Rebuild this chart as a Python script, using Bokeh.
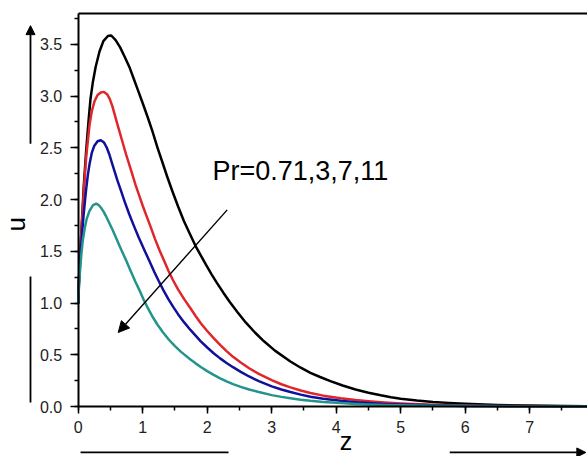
from math import pi
from bokeh.plotting import figure
from bokeh.models import (Label, Arrow, NormalHead, SingleIntervalTicker, FixedTicker, Range1d,
                          LinearAxis, CustomJSTickFormatter)
from bokeh.embed import file_html
from bokeh.resources import INLINE

# Pr = 0.71 (black)
z_pr071 = [0, 0.01, 0.02, 0.056, 0.087, 0.124, 0.16, 0.19, 0.226, 0.27, 0.33, 0.39, 0.46, 0.50, 0.52,
           0.58, 0.65, 0.72, 0.80, 0.865, 0.93, 1.0, 1.08, 1.15, 1.23, 1.30, 1.38, 1.46, 1.55, 1.64,
           1.73, 1.82, 1.90, 1.98, 2.07, 2.15, 2.25, 2.35, 2.47, 2.6, 2.74, 2.88, 3.05, 3.29, 3.45,
           3.6, 3.75, 3.91, 4.1, 4.3, 4.5, 4.69, 4.85, 5.0, 5.25, 5.5, 5.75, 6.0, 6.5, 7.0, 7.5, 7.9]
u_pr071 = [1.00, 1.22, 1.35, 1.78, 2.14, 2.48, 2.76, 2.97, 3.13, 3.28, 3.43, 3.53, 3.58, 3.585, 3.58,
           3.54, 3.47, 3.38, 3.27, 3.16, 3.05, 2.93, 2.79, 2.66, 2.50, 2.37, 2.22, 2.08, 1.93, 1.79,
           1.67, 1.55, 1.46, 1.37, 1.275, 1.195, 1.10, 1.01, 0.91, 0.81, 0.715, 0.63, 0.54, 0.435, 0.375,
           0.325, 0.285, 0.245, 0.203, 0.165, 0.133, 0.108, 0.09, 0.076, 0.058, 0.044, 0.034, 0.026,
           0.015, 0.009, 0.005, 0.003]
# Pr = 3 (red)
z_pr3 = [0, 0.01, 0.02, 0.04, 0.06, 0.09, 0.125, 0.175, 0.21, 0.253, 0.30, 0.35, 0.40, 0.45, 0.49,
         0.53, 0.57, 0.62, 0.68, 0.74, 0.81, 0.89, 0.95, 1.0, 1.06, 1.12, 1.19, 1.26, 1.33, 1.40, 1.47,
         1.55, 1.64, 1.74, 1.82, 1.90, 2.0, 2.1, 2.2, 2.3, 2.4, 2.52, 2.65, 2.8, 3.0, 3.15, 3.29, 3.45,
         3.6, 3.8, 4.07, 4.3, 4.5, 4.75, 5.0, 5.5, 6.0, 6.5, 7.0, 7.9]
u_pr3 = [1.00, 1.20, 1.33, 1.58, 1.80, 2.12, 2.42, 2.72, 2.85, 2.95, 3.01, 3.035, 3.04, 3.015, 2.97,
         2.90, 2.81, 2.70, 2.57, 2.44, 2.30, 2.14, 2.03, 1.94, 1.84, 1.74, 1.62, 1.51, 1.41, 1.31, 1.22,
         1.13, 1.04, 0.95, 0.875, 0.805, 0.73, 0.66, 0.595, 0.535, 0.48, 0.425, 0.37, 0.315, 0.255, 0.215,
         0.185, 0.155, 0.13, 0.105, 0.08, 0.062, 0.05, 0.038, 0.029, 0.017, 0.01, 0.006, 0.004, 0.002]
# Pr = 7 (blue)
z_pr7 = [0, 0.01, 0.02, 0.04, 0.06, 0.082, 0.105, 0.125, 0.15, 0.175, 0.21, 0.25, 0.30, 0.35, 0.40,
         0.44, 0.48, 0.52, 0.56, 0.61, 0.66, 0.72, 0.79, 0.86, 0.94, 1.02, 1.10, 1.18, 1.25, 1.32, 1.40,
         1.48, 1.55, 1.64, 1.74, 1.82, 1.90, 2.0, 2.1, 2.2, 2.3, 2.4, 2.52, 2.65, 2.8, 3.0, 3.15, 3.29,
         3.45, 3.6, 3.8, 4.07, 4.3, 4.5, 4.75, 5.0, 5.5, 6.0, 6.5, 7.0, 7.9]
u_pr7 = [1.00, 1.17, 1.29, 1.50, 1.67, 1.84, 1.99, 2.11, 2.24, 2.34, 2.45, 2.52, 2.563, 2.573, 2.55,
         2.505, 2.44, 2.36, 2.28, 2.18, 2.09, 1.98, 1.86, 1.75, 1.63, 1.52, 1.41, 1.30, 1.21, 1.125, 1.035,
         0.955, 0.89, 0.815, 0.74, 0.685, 0.63, 0.57, 0.515, 0.465, 0.42, 0.38, 0.335, 0.29, 0.245, 0.195,
         0.165, 0.14, 0.115, 0.095, 0.075, 0.055, 0.042, 0.033, 0.025, 0.019, 0.011, 0.006, 0.004,
         0.002, 0.001]
# Pr = 11 (teal)
z_pr11 = [0, 0.01, 0.02, 0.035, 0.05, 0.07, 0.10, 0.13, 0.175, 0.23, 0.28, 0.32, 0.36, 0.40, 0.43,
          0.48, 0.53, 0.58, 0.65, 0.74, 0.81, 0.89, 0.96, 1.02, 1.08, 1.15, 1.23, 1.31, 1.40, 1.50, 1.59,
          1.67, 1.74, 1.82, 1.90, 2.0, 2.1, 2.2, 2.3, 2.4, 2.52, 2.65, 2.8, 3.0, 3.15, 3.29, 3.45, 3.6,
          3.8, 4.07, 4.3, 4.5, 4.75, 5.0, 5.5, 6.0, 7.0, 7.9]
u_pr11 = [1.00, 1.14, 1.24, 1.37, 1.48, 1.60, 1.72, 1.81, 1.89, 1.945, 1.96, 1.945, 1.915, 1.875, 1.84,
          1.775, 1.71, 1.64, 1.54, 1.415, 1.315, 1.20, 1.11, 1.025, 0.95, 0.87, 0.79, 0.72, 0.65, 0.583,
          0.53, 0.489, 0.454, 0.417, 0.382, 0.342, 0.306, 0.272, 0.242, 0.216, 0.19, 0.165, 0.14, 0.11,
          0.093, 0.08, 0.066, 0.055, 0.044, 0.033, 0.025, 0.02, 0.015, 0.011, 0.007, 0.004, 0.0015, 0.0005]

series = [(z_pr071, u_pr071, "#000000"), (z_pr3, u_pr3, "#e0262b"),
          (z_pr7, u_pr7, "#10109a"), (z_pr11, u_pr11, "#23948c")]

FONT = "Liberation Sans"

p = figure(width=587, height=456, output_backend="svg", toolbar_location=None,
           x_range=Range1d(-1.205, 7.896), y_range=Range1d(-0.483, 3.923),
           min_border_left=0, min_border_right=0, min_border_top=0, min_border_bottom=0)
p.xgrid.visible = False
p.ygrid.visible = False
p.outline_line_color = None
p.background_fill_color = "white"
p.border_fill_color = "white"

for z, u, c in series:
    p.line(z, u, line_color=c, line_width=2.5, line_join="round", line_cap="round")

p.xaxis.ticker = SingleIntervalTicker(interval=1, num_minor_ticks=2)
p.yaxis.ticker = SingleIntervalTicker(interval=0.5, num_minor_ticks=2)
p.yaxis.formatter = CustomJSTickFormatter(code="return tick.toFixed(1);")
p.xaxis.fixed_location = 0
p.yaxis.fixed_location = 0
p.xaxis.bounds = (0, 7.9)
p.yaxis.bounds = (0, 3.8)
for ax in (p.xaxis, p.yaxis):
    ax.axis_line_width = 2
    ax.axis_line_color = "black"
    ax.major_tick_line_width = 1.5
    ax.minor_tick_line_width = 1.5
    ax.major_tick_line_color = "black"
    ax.minor_tick_line_color = "black"
    ax.major_tick_in = 0
    ax.minor_tick_in = 0
    ax.minor_tick_out = 4
    ax.major_label_text_font = FONT
    ax.major_label_text_color = "#222222"
    ax.major_label_text_font_size = "16px"
p.xaxis.major_tick_out = 7
p.yaxis.major_tick_out = 8
p.xaxis.major_label_standoff = 7
p.yaxis.major_label_standoff = 8

# top frame line
top = LinearAxis(fixed_location=3.8, bounds=(0, 7.9), ticker=FixedTicker(ticks=[]),
                 axis_line_width=2, axis_line_color="black", major_label_text_font_size="0px",
                 major_tick_out=0, minor_tick_out=0)
p.add_layout(top, "above")

# axis titles
p.add_layout(Label(x=-0.97, y=1.76, text="u", angle=pi / 2, text_align="center",
                   text_baseline="alphabetic", text_font=FONT, text_font_size="26px", text_color="black"))
p.add_layout(Label(x=4.15, y=-0.33, text="z", text_align="center",
                   text_baseline="alphabetic", text_font=FONT, text_font_size="25px", text_color="black"))

# annotation
p.add_layout(Label(x=2.08, y=2.277, text="Pr=0.71,3,7,11", text_align="left",
                   text_baseline="alphabetic", text_font=FONT, text_font_size="27px", text_color="black"))
p.add_layout(Arrow(x_start=2.31, y_start=1.90, x_end=0.62, y_end=0.715, line_width=1.4,
                   end=NormalHead(size=11, fill_color="black", line_color="black", line_width=1)))

# decorative arrows outside the axes
p.add_layout(Arrow(x_start=-0.74, y_start=2.54, x_end=-0.74, y_end=3.68, line_width=1.8,
                   end=NormalHead(size=9, fill_color="black", line_color="black", line_width=1)))
p.add_layout(Arrow(x_start=-0.74, y_start=1.256, x_end=-0.74, y_end=0.039, line_width=1.8, end=None))
p.add_layout(Arrow(x_start=0.036, y_start=-0.444, x_end=2.33, y_end=-0.444, line_width=1.8, end=None))
p.add_layout(Arrow(x_start=5.76, y_start=-0.444, x_end=7.87, y_end=-0.444, line_width=1.8,
                   end=NormalHead(size=9, fill_color="black", line_color="black", line_width=1)))

open("out.html", "w").write(file_html(p, INLINE))
